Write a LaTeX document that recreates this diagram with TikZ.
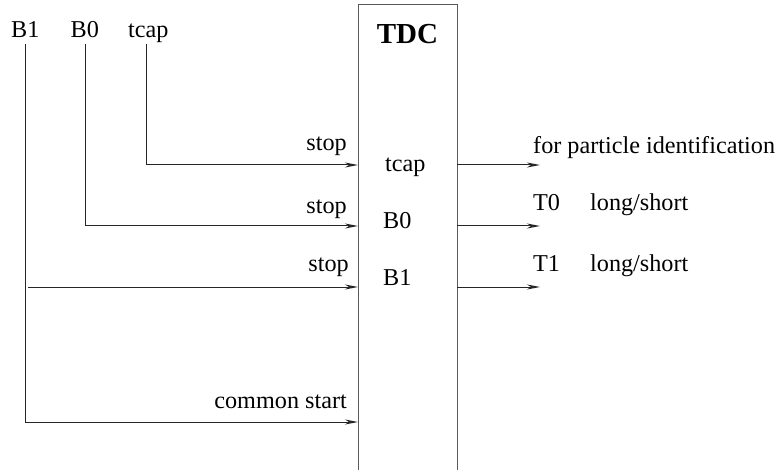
\documentclass[tikz,border=0pt]{standalone}
\usepackage{fontspec}
\setmainfont{Liberation Serif}
\usetikzlibrary{arrows.meta}
\begin{document}
\begin{tikzpicture}[x=1pt,y=-1pt,
  lbl/.style={inner sep=0pt,font=\fontsize{24.2}{28}\selectfont},
  wire/.style={line width=1pt,draw=black!85},
  sig/.style={wire,-{Stealth[length=13pt,width=5pt,inset=4pt]}},
  boxline/.style={line width=1pt,draw=black!65}]
\useasboundingbox (0,0) rectangle (776,470);
% TDC box (open at bottom)
\coordinate (bl) at (358,470);
\coordinate (tl) at (358,5);
\coordinate (tr) at (457,5);
\coordinate (br) at (457,470);
\draw[boxline] (bl) -- (tl) -- (tr) -- (br);
\node[inner sep=0pt,anchor=base,font=\fontsize{29}{34}\selectfont\bfseries] (tdc) at (407.5,44) {TDC};
% top labels
\node[lbl,anchor=base west] (lB1) at (11,37.5) {B1};
\node[lbl,anchor=base west] (lB0) at (70.5,37.5) {B0};
\node[lbl,anchor=base west] (ltcap) at (128,37.5) {tcap};
% coordinates
\coordinate (b1top) at (25,44);
\coordinate (b0top) at (85,44);
\coordinate (tctop) at (146,44);
\coordinate (tccorner) at (146,165);
\coordinate (b0corner) at (85,226);
\coordinate (b1corner) at (25,422);
\coordinate (b1tap) at (28,287);
\coordinate (in1) at (358,165);
\coordinate (in2) at (358,226);
\coordinate (in3) at (358,287);
\coordinate (in4) at (358,422);
\coordinate (out1) at (457,165);
\coordinate (out2) at (457,226);
\coordinate (out3) at (457,287);
\coordinate (end1) at (540,165);
\coordinate (end2) at (540,226);
\coordinate (end3) at (540,287);
% wires
\draw[sig] (tctop) -- (tccorner) -- (in1);
\draw[sig] (b0top) -- (b0corner) -- (in2);
\draw[sig] (b1top) -- (b1corner) -- (in4);
\draw[sig] (b1tap) -- (in3);
\draw[sig] (out1) -- (end1);
\draw[sig] (out2) -- (end2);
\draw[sig] (out3) -- (end3);
% stop labels
\node[lbl,anchor=base east] (s1) at (347,151) {stop};
\node[lbl,anchor=base east] (s2) at (347,214) {stop};
\node[lbl,anchor=base east] (s3) at (349,272) {stop};
\node[lbl,anchor=base east] (cs) at (347,408) {common start};
% inner labels
\node[lbl,anchor=base west] (itcap) at (385,172) {tcap};
\node[lbl,anchor=base west] (iB0) at (383,229) {B0};
\node[lbl,anchor=base west] (iB1) at (383,286) {B1};
% output labels
\node[lbl,anchor=base west] (o1) at (533,154) {for particle identification};
\node[lbl,anchor=base west] (o2) at (533,211) {T0};
\node[lbl,anchor=base west] (o2b) at (590,211) {long/short};
\node[lbl,anchor=base west] (o3) at (533,272) {T1};
\node[lbl,anchor=base west] (o3b) at (590,272) {long/short};
\end{tikzpicture}
\end{document}
